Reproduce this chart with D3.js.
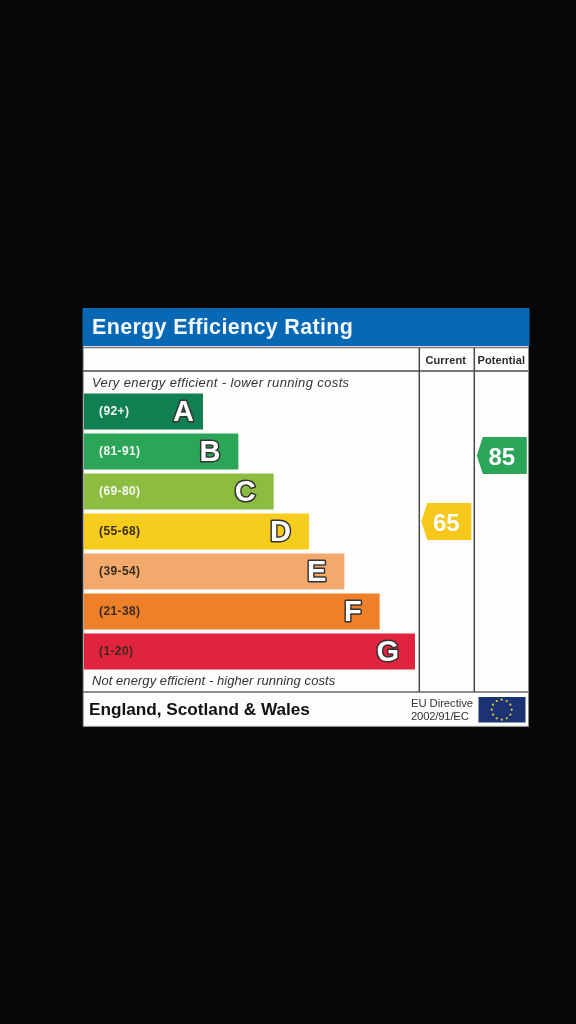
<!DOCTYPE html>
<html><head><meta charset="utf-8">
<style>html,body{margin:0;padding:0;background:#080808}svg{display:block;filter:blur(0.35px)}text{font-family:"Liberation Sans",Arial,sans-serif}</style>
<script src="https://cdn.jsdelivr.net/npm/d3@7/dist/d3.min.js"></script></head><body>
<script>
const bandLetters=["A","B","C","D","E","F","G"];
const bandRanges=["(92+)","(81-91)","(69-80)","(55-68)","(39-54)","(21-38)","(1-20)"];
const bandColors=["#108053","#2ba558","#8dbd40","#f6cd1c","#f2a96b","#ee8029","#e2233e"];
const bandLengths=[1,2,3,4,5,6,7];
const ratingNames=["Current","Potential"];
const ratingValues=[65,85];
const ratingColors=["#f6c81b","#2ba558"];

const W=576,H=1024;
const svg=d3.select("body").append("svg").attr("width",W).attr("height",H);
svg.append("rect").attr("width",W).attr("height",H).attr("fill","#080808");
// panel
svg.append("rect").attr("x",83).attr("y",346).attr("width",445.5).attr("height",380.5).attr("fill","#fdfdfb");
svg.append("rect").attr("x",82.5).attr("y",308).attr("width",447).attr("height",38).attr("fill","#0769b5");
svg.append("text").attr("x",92).attr("y",334).attr("font-size",21.5).attr("font-weight",700).attr("letter-spacing",0.33).attr("fill","#f4f8fb").text("Energy Efficiency Rating");

const line=(x1,y1,x2,y2,c="#4a4a4a",w=1.5)=>svg.append("line").attr("x1",x1).attr("y1",y1).attr("x2",x2).attr("y2",y2).attr("stroke",c).attr("stroke-width",w);
line(83,347.5,528.5,347.5,"#777");
line(83,371,528.5,371);
line(83,692,528.5,692,"#666",1.5);
line(419.3,348,419.3,692);
line(474.3,348,474.3,692);
line(528.5,347,528.5,726,"#888",1);
line(83,347,83,726,"#555",1);
line(83,726.3,528.5,726.3,"#999",1);

// columns
const colX=d3.scaleBand().domain(ratingNames).range([419.3,530.3]);
svg.selectAll(".colh").data(ratingNames).join("text")
  .attr("x",d=>colX(d)+26.5).attr("y",364).attr("text-anchor","middle")
  .attr("font-size",11).attr("font-weight",700).attr("letter-spacing",0.15).attr("fill","#2a2a2a").text(d=>d);

svg.append("text").attr("x",92).attr("y",387).attr("font-size",13).attr("font-style","italic").attr("letter-spacing",0.37).attr("fill","#333").text("Very energy efficient - lower running costs");
svg.append("text").attr("x",92).attr("y",685).attr("font-size",13).attr("font-style","italic").attr("letter-spacing",0.06).attr("fill","#333").text("Not energy efficient - higher running costs");

// bars
const y=d3.scaleBand().domain(bandLetters).range([392,672]).paddingInner(0.1).paddingOuter(0.05);
const xEnd=d3.scaleLinear().domain([1,7]).range([203,415]);
const rows=bandLetters.map((l,i)=>({l,r:bandRanges[i],c:bandColors[i],v:bandLengths[i]}));
const g=svg.selectAll(".row").data(rows).join("g");
g.append("rect").attr("x",84).attr("y",d=>y(d.l)-0.5).attr("width",d=>xEnd(d.v)-84).attr("height",y.bandwidth()).attr("fill",d=>d.c);
g.append("text").attr("x",99).attr("y",d=>y(d.l)+20.5).attr("font-size",12).attr("font-weight",700).attr("letter-spacing",0.4)
  .attr("fill",d=>(d.l==="A"||d.l==="B"||d.l==="C")?"#f5f8f2":"#3a2a20").text(d=>d.r);
g.append("text").attr("x",d=>xEnd(d.v)-(d.l==="A"?9:d.l==="G"?16:18)).attr("y",d=>y(d.l)+26.5).attr("text-anchor","end").attr("font-size",29).attr("font-weight",700)
  .attr("fill","#fff").attr("stroke","#333").attr("stroke-width",3).attr("paint-order","stroke").attr("stroke-linejoin","round").text(d=>d.l);

// rating arrows
const scoreY=d3.scaleLinear().domain([65,85]).range([521.5,455.5]);
const ratings=ratingNames.map((n,i)=>({n,v:ratingValues[i],c:ratingColors[i]}));
const tip=d3.line();
const rg=svg.selectAll(".rate").data(ratings).join("g").attr("transform",d=>`translate(${colX(d.n)},${scoreY(d.v)})`);
rg.append("path").attr("fill",d=>d.c).attr("d",tip([[2,0],[8,-18.5],[52,-18.5],[52,18.5],[8,18.5]])+"");
rg.append("text").attr("x",27).attr("y",9).attr("text-anchor","middle").attr("font-size",24).attr("font-weight",700).attr("fill","#fff").text(d=>d.v);

// footer
svg.append("text").attr("x",89).attr("y",715).attr("font-size",17.2).attr("font-weight",700).attr("fill","#111").text("England, Scotland & Wales");
svg.append("text").attr("x",411).attr("y",707).attr("font-size",11.3).attr("letter-spacing",-0.07).attr("fill","#333").text("EU Directive");
svg.append("text").attr("x",411).attr("y",720).attr("font-size",11.3).attr("letter-spacing",-0.2).attr("fill","#333").text("2002/91/EC");
svg.append("rect").attr("x",478.5).attr("y",697).attr("width",47).attr("height",25.5).attr("fill","#1b3273");
const stars=d3.range(12);
const star=d3.symbol().type(d3.symbolCircle).size(4);
svg.selectAll(".star").data(stars).join("path").attr("d",star).attr("fill","#e0c83a")
  .attr("transform",d=>{const a=d/12*2*Math.PI;return `translate(${501.7+10*Math.sin(a)},${709.7-10*Math.cos(a)})`;});
</script></body></html>
